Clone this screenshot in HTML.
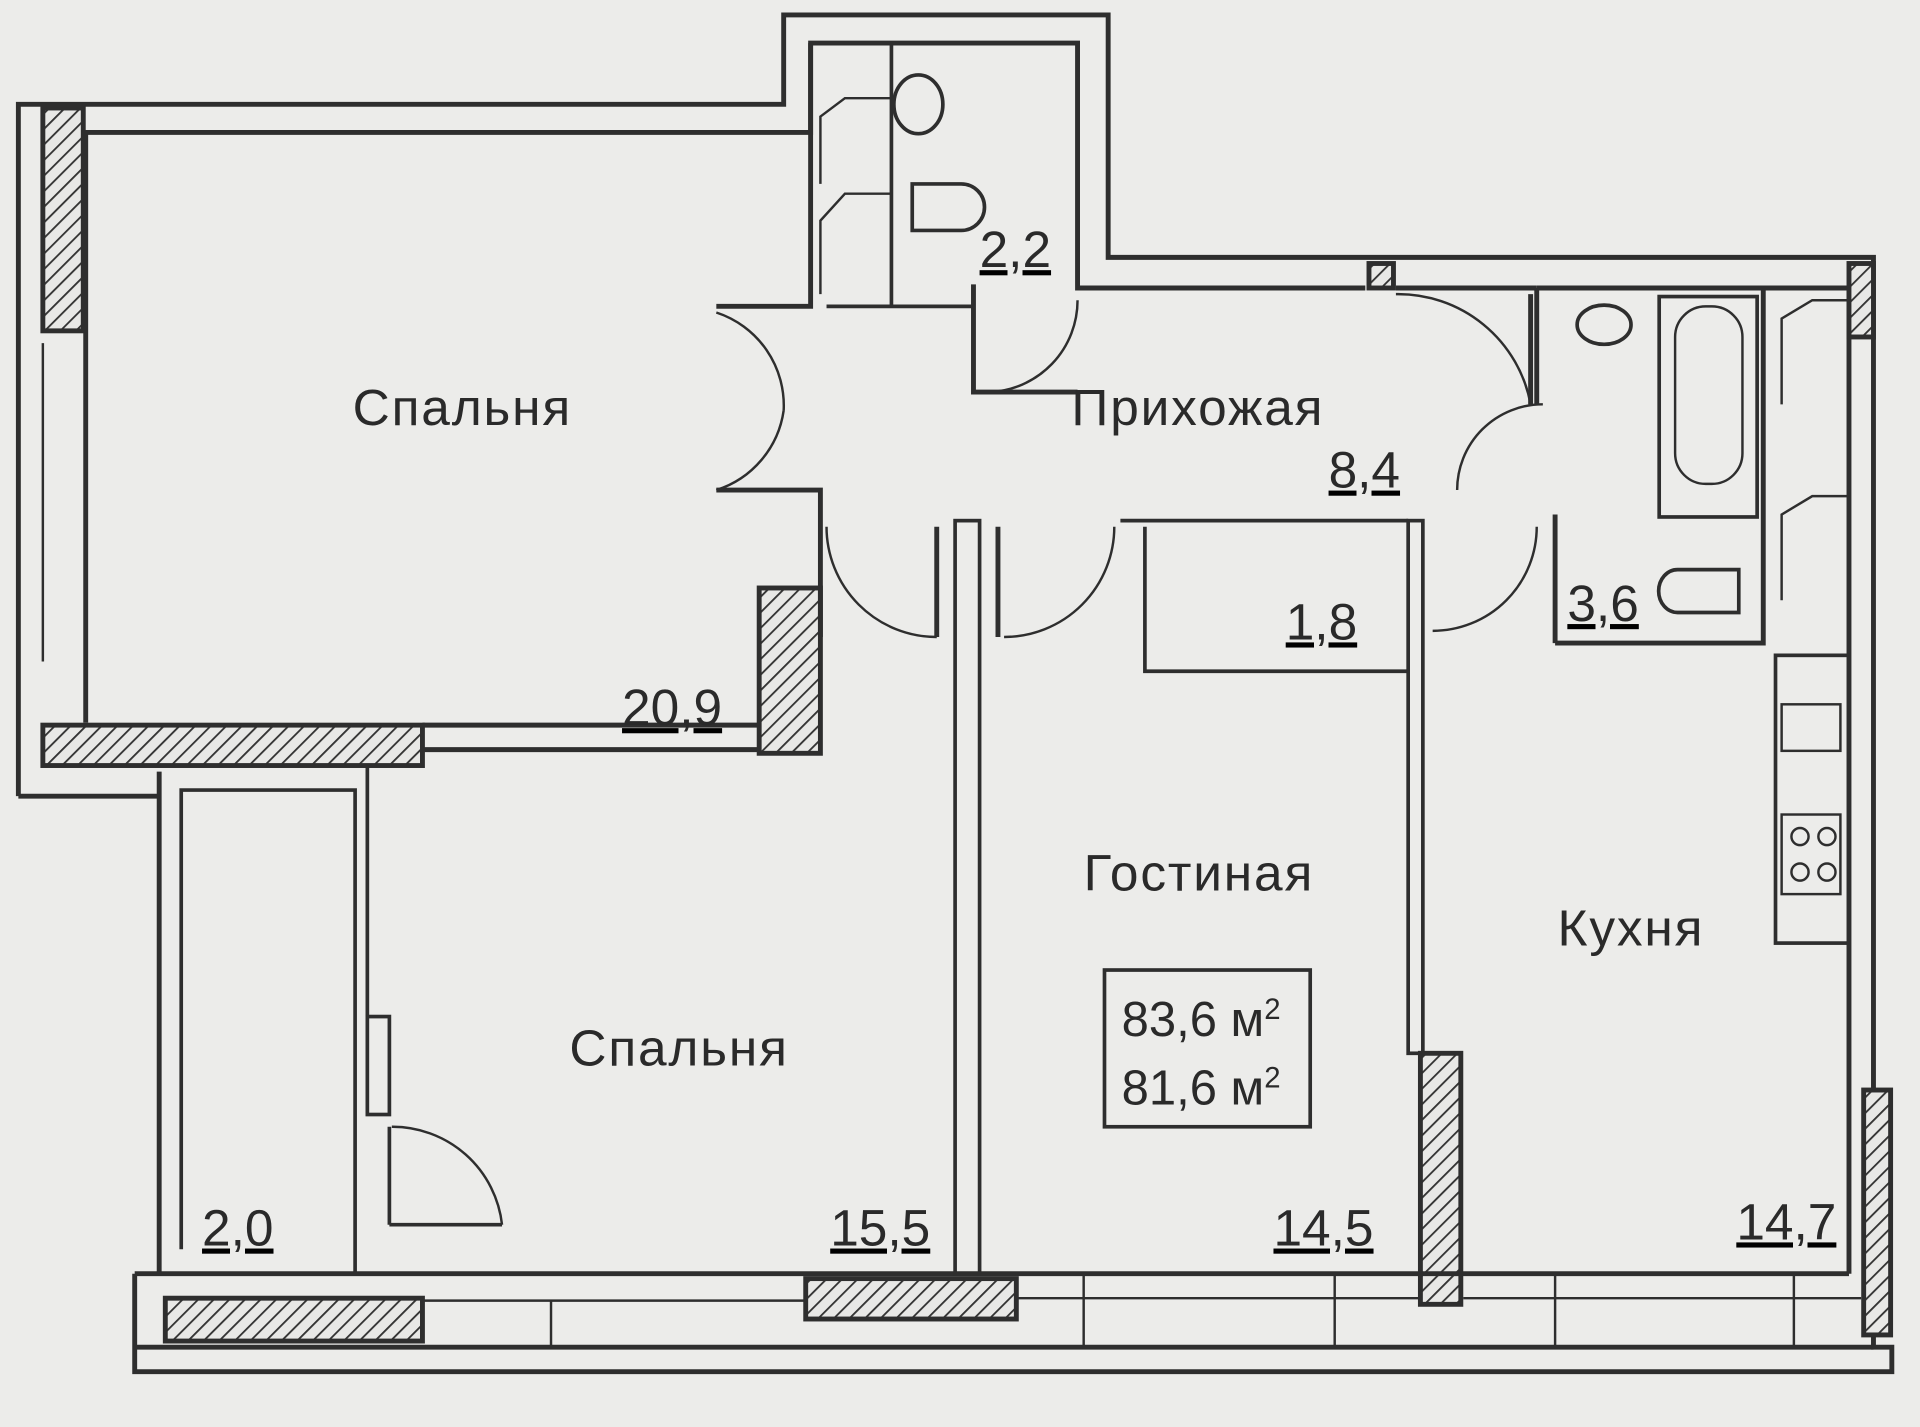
<!DOCTYPE html>
<html><head><meta charset="utf-8"><style>
html,body{margin:0;padding:0;background:#ececea;}
svg{display:block}
text{font-family:"Liberation Sans",sans-serif;fill:#2a2a2a}
</style></head><body>
<svg width="1920" height="1427" viewBox="0 0 1568 1165" xmlns="http://www.w3.org/2000/svg">
<defs>
<pattern id="h" width="9" height="9" patternUnits="userSpaceOnUse" patternTransform="rotate(45)">
<rect width="9" height="9" fill="#e8e8e6"/><line x1="0" y1="0" x2="0" y2="9" stroke="#333" stroke-width="3"/>
</pattern>
</defs>
<rect width="1568" height="1165" fill="#ececea"/>
<g fill="none" stroke="#2e2e2e" stroke-width="4">
<polyline points="15,650 15,85 640,85 640,12 905,12 905,210 1530,210 1530,1100 1545,1100 1545,1120 110,1120 110,1040"/>
<polyline points="70,590 70,108 662,108 662,35 880,35 880,235 1115,235"/>
<line x1="1140" y1="235" x2="1255" y2="235"/>
<polyline points="1255,235 1510,235 1510,1040"/>
<line x1="15" y1="650" x2="130" y2="650"/>
<rect x="35" y="88" width="33" height="182" fill="url(#h)"/>
<rect x="35" y="592" width="310" height="33" fill="url(#h)"/>
<line x1="345" y1="592" x2="620" y2="592"/>
<line x1="345" y1="612" x2="620" y2="612"/>
<rect x="620" y="480" width="50" height="135" fill="url(#h)"/>
<rect x="1510" y="215" width="20" height="60" fill="url(#h)"/>
<rect x="1522" y="890" width="22" height="200" fill="url(#h)"/>
<rect x="1160" y="860" width="33" height="205" fill="url(#h)"/>
<rect x="135" y="1060" width="210" height="35" fill="url(#h)"/>
<rect x="658" y="1044" width="172" height="33" fill="url(#h)"/>
<rect x="1118" y="215" width="20" height="20" fill="url(#h)"/>
<line x1="110" y1="1040" x2="1510" y2="1040"/>
<line x1="345" y1="1062" x2="658" y2="1062" stroke-width="2"/>
<line x1="830" y1="1060" x2="1160" y2="1060" stroke-width="2"/>
<line x1="1195" y1="1060" x2="1520" y2="1060" stroke-width="2"/>
<line x1="110" y1="1100" x2="1530" y2="1100"/>
<line x1="450" y1="1062" x2="450" y2="1100" stroke-width="2"/>
<line x1="885" y1="1040" x2="885" y2="1100" stroke-width="2"/>
<line x1="1090" y1="1040" x2="1090" y2="1100" stroke-width="2"/>
<line x1="1270" y1="1040" x2="1270" y2="1100" stroke-width="2"/>
<line x1="1465" y1="1040" x2="1465" y2="1100" stroke-width="2"/>
<line x1="35" y1="280" x2="35" y2="540" stroke-width="2"/>
<polyline points="130,630 130,1040"/>
<polyline points="148,1020 148,645 290,645 290,1040" stroke-width="3"/>
<line x1="300" y1="625" x2="300" y2="830" stroke-width="3"/>
<rect x="300" y="830" width="18" height="80" stroke-width="3"/>
<line x1="318" y1="1000" x2="410" y2="1000" stroke-width="3"/>
<path d="M320,920 A90,90 0 0 1 410,1000" stroke-width="2"/>
<line x1="318" y1="920" x2="318" y2="1000" stroke-width="3"/>
<rect x="780" y="425" width="20" height="615" stroke-width="3"/>
<rect x="1150" y="425" width="12" height="435" stroke-width="3"/>
<polyline points="915,425 1150,425" stroke-width="3"/>
<polyline points="935,430 935,548 1150,548" stroke-width="3"/>
<polyline points="662,35 662,250 585,250"/>
<line x1="728" y1="35" x2="728" y2="250" stroke-width="3"/>
<line x1="675" y1="250" x2="795" y2="250" stroke-width="3"/>
<ellipse cx="750" cy="85" rx="20" ry="24" stroke-width="3"/>
<path d="M745,150 H785 A15,15 0 0 1 785,188 H745 Z" stroke-width="3"/>
<path d="M670,240 V180 L690,158 H728" stroke-width="2"/>
<path d="M670,150 V95 L690,80 H728" stroke-width="2"/>
<polyline points="795,232 795,320 880,320"/>
<path d="M808,320 A75,75 0 0 0 880,245" stroke-width="2"/>
<path d="M585,255 A80,80 0 0 1 640,335" stroke-width="2"/>
<path d="M585,400 A80,80 0 0 0 640,335" stroke-width="2"/>
<polyline points="585,400 670,400 670,520"/>
<path d="M675,430 A90,90 0 0 0 765,520" stroke-width="2"/>
<line x1="765" y1="430" x2="765" y2="520"/>
<line x1="815" y1="430" x2="815" y2="520"/>
<path d="M820,520 A90,90 0 0 0 910,430" stroke-width="2"/>
<path d="M1140,240 A110,110 0 0 1 1250,330" stroke-width="2"/>
<line x1="1250" y1="240" x2="1250" y2="330"/>
<path d="M1190,400 A70,70 0 0 1 1260,330" stroke-width="2"/>
<path d="M1170,515 A85,85 0 0 0 1255,430" stroke-width="2"/>
<line x1="1270" y1="420" x2="1270" y2="525"/>
<polyline points="1270,525 1440,525 1440,235"/>
<line x1="1255" y1="235" x2="1255" y2="330"/>
<rect x="1355" y="242" width="80" height="180" stroke-width="3"/>
<rect x="1368" y="250" width="55" height="145" rx="25" stroke-width="2"/>
<ellipse cx="1310" cy="265" rx="22" ry="16" stroke-width="3"/>
<path d="M1370,465 H1420 V500 H1370 A15,17 0 0 1 1370,465 Z" stroke-width="3"/>
<path d="M1455,490 V420 L1480,405 H1510" stroke-width="2"/>
<path d="M1455,330 V260 L1480,245 H1510" stroke-width="2"/>
<rect x="1450" y="535" width="60" height="235" stroke-width="3"/>
<rect x="1455" y="575" width="48" height="38" stroke-width="2"/>
<rect x="1455" y="665" width="48" height="65" stroke-width="2"/>
<circle cx="1470" cy="683" r="7" stroke-width="2"/><circle cx="1492" cy="683" r="7" stroke-width="2"/>
<circle cx="1470" cy="712" r="7" stroke-width="2"/><circle cx="1492" cy="712" r="7" stroke-width="2"/>
<rect x="902" y="792" width="168" height="128" stroke-width="3"/>
</g>
<g font-size="42" letter-spacing="1.5">
<text x="288" y="347">Спальня</text>
<text x="875" y="347">Прихожая</text>
<text x="885" y="727">Гостиная</text>
<text x="1272" y="772">Кухня</text>
<text x="465" y="870">Спальня</text>
</g>
<g font-size="40">
<text x="916" y="846">83,6 м<tspan font-size="24" dy="-14">2</tspan></text>
<text x="916" y="902">81,6 м<tspan font-size="24" dy="-14">2</tspan></text>
</g>
<g font-size="42" text-decoration="underline">
<text x="800" y="218">2,2</text>
<text x="1085" y="398">8,4</text>
<text x="1050" y="522">1,8</text>
<text x="1280" y="507">3,6</text>
<text x="508" y="592">20,9</text>
<text x="165" y="1017">2,0</text>
<text x="678" y="1017">15,5</text>
<text x="1040" y="1017">14,5</text>
<text x="1418" y="1012">14,7</text>
</g>
</svg>
</body></html>
